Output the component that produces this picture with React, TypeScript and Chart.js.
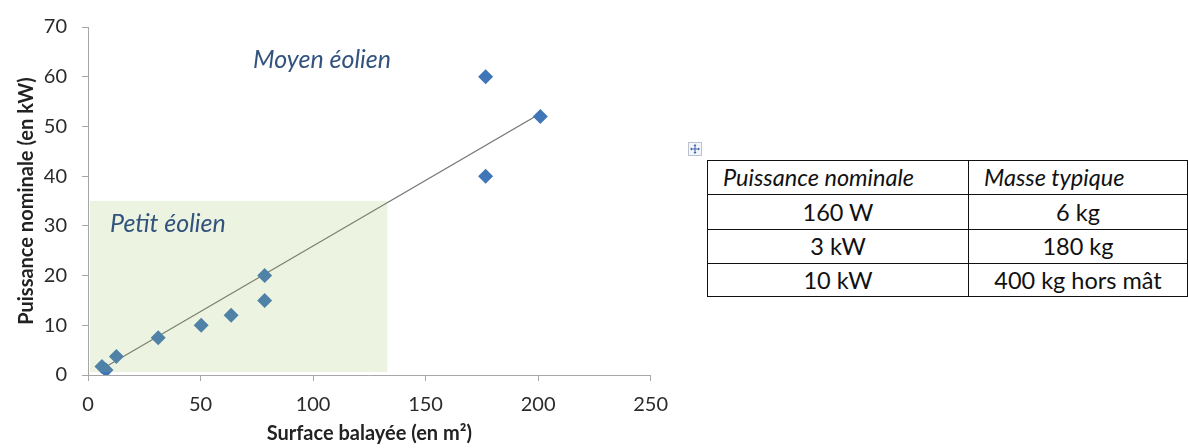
import React, { useEffect, useRef } from "react";
import { Chart, registerables } from "chart.js";

Chart.register(...registerables);

// ---- data ----
const surfaceM2 = [6.2, 8, 12.6, 31.2, 50.3, 63.6, 78.5, 78.5, 176.7, 176.7, 201];
const powerKW = [1.7, 1.0, 3.7, 7.5, 10, 12, 20, 15, 60, 40, 52];
const trendX = [6.2, 201];
const trendY = [1.2, 52.6];
const xTicks = [0, 50, 100, 150, 200, 250];
const yTicks = [0, 10, 20, 30, 40, 50, 60, 70];
const smallZoneX = [0, 133];
const smallZoneY = [0, 35];
const zoneLabels = ["Petit éolien", "Moyen éolien"];
const zoneLabelX = [35.5, 104];
const zoneLabelY = [30.4, 63.4];
const tableHeader = ["Puissance nominale", "Masse typique"];
const tablePower = ["160 W", "3 kW", "10 kW"];
const tableMass = ["6 kg", "180 kg", "400 kg hors mât"];

const FONT = "Lato, 'Open Sans', sans-serif";

const zonePlugin = {
  id: "zones",
  afterDatasetsDraw(chart: any) {
    const { ctx, scales } = chart;
    const x = scales.x;
    const y = scales.y;
    const x0 = x.getPixelForValue(smallZoneX[0]) + 2;
    const x1 = x.getPixelForValue(smallZoneX[1]);
    const y0 = y.getPixelForValue(smallZoneY[0]) - 3;
    const y1 = y.getPixelForValue(smallZoneY[1]);
    ctx.save();
    ctx.fillStyle = "rgba(155,187,89,0.18)";
    ctx.fillRect(x0, y1, x1 - x0, y0 - y1);
    ctx.fillStyle = "#32537e";
    ctx.font = `italic 25px ${FONT}`;
    ctx.textAlign = "center";
    ctx.textBaseline = "middle";
    for (let i = 0; i < zoneLabels.length; i++) {
      ctx.fillText(
        zoneLabels[i],
        x.getPixelForValue(zoneLabelX[i]),
        y.getPixelForValue(zoneLabelY[i])
      );
    }
    ctx.restore();
  },
};

function ScatterChart() {
  const ref = useRef<HTMLCanvasElement | null>(null);
  useEffect(() => {
    if (!ref.current) return;
    const axisColor = "#a6a6a6";
    const textColor = "#2b2b2b";
    const chart = new Chart(ref.current, {
      type: "scatter",
      data: {
        datasets: [
          {
            label: "Puissance",
            data: surfaceM2.map((v, i) => ({ x: v, y: powerKW[i] })),
            pointStyle: "rectRot",
            pointRadius: 7.5,
            pointBackgroundColor: "#3f76b8",
            pointBorderWidth: 0,
            order: 0,
          },
          {
            label: "Tendance",
            data: trendX.map((v, i) => ({ x: v, y: trendY[i] })),
            showLine: true,
            borderColor: "#757575",
            borderWidth: 1.3,
            pointRadius: 0,
            order: 1,
          },
        ],
      },
      options: {
        animation: false,
        responsive: false,
        layout: { padding: { top: 24.5, right: 28, left: 0, bottom: 0 } },
        plugins: {
          legend: { display: false },
          tooltip: { enabled: false },
        },
        scales: {
          x: {
            type: "linear",
            min: 0,
            max: 250,
            afterBuildTicks: (s: any) => {
              s.ticks = xTicks.map((v) => ({ value: v }));
            },
            afterFit: (s: any) => {
              s.height = 73;
            },
            ticks: {
              font: { family: FONT, size: 20 },
              color: textColor,
              padding: 12,
            },
            grid: {
              drawOnChartArea: false,
              drawTicks: true,
              tickLength: 6,
              color: axisColor,
            },
            border: { color: axisColor, width: 1 },
            title: {
              display: true,
              text: "Surface balayée (en m²)",
              font: { family: FONT, size: 20, weight: "bold" },
              color: "#222",
              padding: { top: 0, bottom: 2 },
            },
          },
          y: {
            type: "linear",
            min: 0,
            max: 70,
            afterBuildTicks: (s: any) => {
              s.ticks = yTicks.map((v) => ({ value: v }));
            },
            afterFit: (s: any) => {
              s.width = 88;
            },
            ticks: {
              font: { family: FONT, size: 20 },
              color: textColor,
              padding: 15,
            },
            grid: {
              drawOnChartArea: false,
              drawTicks: true,
              tickLength: 6,
              color: axisColor,
            },
            border: { color: axisColor, width: 1 },
            title: {
              display: true,
              text: "Puissance nominale (en kW)",
              font: { family: FONT, size: 20, weight: "bold" },
              color: "#222",
              padding: { top: 14.5, bottom: 0 },
            },
          },
        },
      },
      plugins: [zonePlugin],
    } as any);
    return () => chart.destroy();
  }, []);
  return (
    <canvas
      ref={ref}
      width={680}
      height={448}
      style={{ position: "absolute", left: 0, top: 0, width: 680, height: 448, display: "block" }}
    />
  );
}

function MoveIcon() {
  return (
    <div
      style={{
        position: "absolute",
        left: 688,
        top: 142,
        width: 12,
        height: 12,
        border: "1px solid #b9c3d3",
        background: "#f3f5f9",
      }}
    >
      <svg width="12" height="12" viewBox="0 0 12 12" style={{ display: "block" }}>
        <g stroke="#3a62b0" strokeWidth="1" fill="#3a62b0">
          <line x1="6" y1="2" x2="6" y2="10" />
          <line x1="2" y1="6" x2="10" y2="6" />
          <polygon points="6,1 4.5,3 7.5,3" stroke="none" />
          <polygon points="6,11 4.5,9 7.5,9" stroke="none" />
          <polygon points="1,6 3,4.5 3,7.5" stroke="none" />
          <polygon points="11,6 9,4.5 9,7.5" stroke="none" />
        </g>
      </svg>
    </div>
  );
}

function InfoTable() {
  const border = "1.5px solid #111";
  const cell: React.CSSProperties = {
    border,
    padding: 0,
    textAlign: "center",
    verticalAlign: "middle",
    fontFamily: FONT,
    fontSize: 23.5,
    color: "#111",
    lineHeight: "23px",
  };
  const rowHeights = [34, 35, 34, 33];
  return (
    <table
      style={{
        position: "absolute",
        left: 707,
        top: 160,
        width: 480,
        borderCollapse: "collapse",
        tableLayout: "fixed",
      }}
    >
      <colgroup>
        <col style={{ width: 261 }} />
        <col style={{ width: 219 }} />
      </colgroup>
      <tbody>
        <tr style={{ height: rowHeights[0] }}>
          {tableHeader.map((h) => (
            <td
              key={h}
              style={{ ...cell, textAlign: "left", paddingLeft: 15, fontStyle: "italic" }}
            >
              {h}
            </td>
          ))}
        </tr>
        {tablePower.map((p, i) => (
          <tr key={p} style={{ height: rowHeights[i + 1] }}>
            <td style={cell}>{p}</td>
            <td style={cell}>{tableMass[i]}</td>
          </tr>
        ))}
      </tbody>
    </table>
  );
}

export default function App() {
  return (
    <div style={{ position: "absolute", left: 0, top: 0, width: 1188, height: 448, background: "#fff" }}>
      <ScatterChart />
      <MoveIcon />
      <InfoTable />
    </div>
  );
}
